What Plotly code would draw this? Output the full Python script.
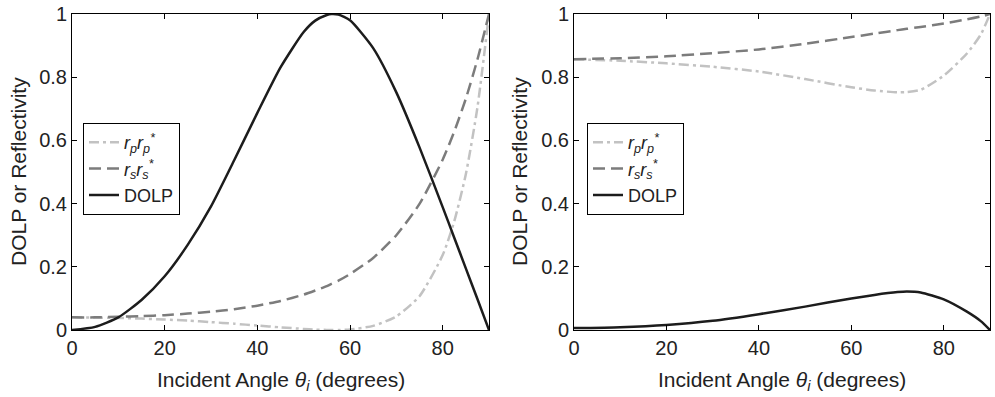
import plotly.graph_objects as go

# ---- data ----
angles_left = [0, 5, 10, 15, 20, 25, 30, 35, 40, 45, 50, 52.5, 55, 56, 57.5, 60, 65, 70, 75, 80, 82.5, 85, 87.5, 90]
rp_left =   [0.040, 0.039, 0.038, 0.036, 0.033, 0.030, 0.025, 0.020, 0.014, 0.0085, 0.0033, 0.0013, 0.0002, 0.0, 0.0002, 0.0018, 0.013, 0.043, 0.107, 0.237, 0.344, 0.493, 0.704, 1.0]
rs_left =   [0.040, 0.040, 0.042, 0.044, 0.047, 0.052, 0.058, 0.066, 0.077, 0.092, 0.112, 0.125, 0.139, 0.146, 0.156, 0.177, 0.228, 0.300, 0.399, 0.539, 0.628, 0.732, 0.856, 1.0]
dolp_left = [0.0, 0.010, 0.040, 0.095, 0.170, 0.270, 0.391, 0.537, 0.687, 0.831, 0.943, 0.979, 0.997, 1.0, 0.998, 0.980, 0.892, 0.752, 0.578, 0.389, 0.292, 0.195, 0.098, 0.0]

angles_right = [0, 10, 20, 30, 40, 50, 60, 65, 70, 72, 75, 80, 85, 88, 90]
rp_right =   [0.857, 0.852, 0.844, 0.833, 0.818, 0.794, 0.768, 0.758, 0.752, 0.753, 0.760, 0.805, 0.875, 0.935, 1.0]
rs_right =   [0.857, 0.860, 0.866, 0.876, 0.888, 0.906, 0.927, 0.938, 0.949, 0.953, 0.959, 0.970, 0.983, 0.992, 1.0]
dolp_right = [0.006, 0.009, 0.016, 0.029, 0.050, 0.074, 0.100, 0.111, 0.120, 0.122, 0.119, 0.097, 0.058, 0.028, 0.0]

x_ticks = [0, 20, 40, 60, 80]
y_ticks = [0, 0.2, 0.4, 0.6, 0.8, 1]
y_tick_labels = ["0", "0.2", "0.4", "0.6", "0.8", "1"]

names = ["<i>r<sub>p</sub>r<sub>p</sub><sup>*</sup></i>",
         "<i>r<sub>s</sub>r<sub>s</sub><sup>*</sup></i>",
         "DOLP"]

C_RP = "#c2c2c2"
C_RS = "#7c7c7c"
C_DO = "#1c1c1c"
FONT = "Liberation Sans, Arial, sans-serif"

fig = go.Figure()

def add_set(xs, rp, rs, dolp, xa, ya, leg):
    fig.add_trace(go.Scatter(x=xs, y=rp, mode="lines", name=names[0], xaxis=xa, yaxis=ya, legend=leg,
                             line=dict(color=C_RP, width=2.5, dash="10px,4px,3px,4px", shape="spline", smoothing=0.6)))
    fig.add_trace(go.Scatter(x=xs, y=rs, mode="lines", name=names[1], xaxis=xa, yaxis=ya, legend=leg,
                             line=dict(color=C_RS, width=2.5, dash="12px,6px", shape="spline", smoothing=0.6)))
    fig.add_trace(go.Scatter(x=xs, y=dolp, mode="lines", name=names[2], xaxis=xa, yaxis=ya, legend=leg,
                             line=dict(color=C_DO, width=2.5, shape="spline", smoothing=0.6)))

add_set(angles_left, rp_left, rs_left, dolp_left, "x", "y", "legend")
add_set(angles_right, rp_right, rs_right, dolp_right, "x2", "y2", "legend2")

W, H = 995, 397
ydom = [1 - 330 / H, 1 - 14 / H]
xdom1 = [72 / W, 489 / W]
xdom2 = [574 / W, 990 / W]

axis_common = dict(showline=True, linecolor="black", linewidth=1, mirror="ticks", automargin=False,
                   ticks="inside", ticklen=5, tickcolor="black", showgrid=False, zeroline=False,
                   tickfont=dict(family=FONT, size=20, color="#222"))

leg_common = dict(xanchor="left", yanchor="top", bordercolor="black", borderwidth=1,
                  bgcolor="white", font=dict(family=FONT, size=18, color="#222"), tracegroupgap=0)

fig.update_layout(
    template="none",
    width=W, height=H,
    margin=dict(l=0, r=0, t=0, b=0, autoexpand=False),
    paper_bgcolor="white", plot_bgcolor="white",
    font=dict(family=FONT, color="#222"),
    xaxis=dict(domain=xdom1, range=[0, 90], tickvals=x_ticks, anchor="y", **axis_common),
    yaxis=dict(domain=ydom, range=[0, 1], tickvals=y_ticks, ticktext=y_tick_labels, anchor="x", **axis_common),
    xaxis2=dict(domain=xdom2, range=[0, 90], tickvals=x_ticks, anchor="y2", **axis_common),
    yaxis2=dict(domain=ydom, range=[0, 1], tickvals=y_ticks, ticktext=y_tick_labels, anchor="x2", **axis_common),
    legend=dict(x=83 / W, y=1 - 123 / H, **leg_common),
    legend2=dict(x=587 / W, y=1 - 123 / H, **leg_common),
    showlegend=True,
)

xt = "Incident Angle <i>θ<sub>i</sub></i> (degrees)"
yt = "DOLP or Reflectivity"
for cx in [(72 + 489) / 2 / W, (574 + 990) / 2 / W]:
    fig.add_annotation(text=xt, x=cx, y=1 - 381 / H, xref="paper", yref="paper", showarrow=False,
                       xanchor="center", yanchor="middle", font=dict(family=FONT, size=21, color="#222"))
for cx in [18 / W, 519 / W]:
    fig.add_annotation(text=yt, x=cx, y=1 - 172 / H, xref="paper", yref="paper", showarrow=False,
                       textangle=-90, xanchor="center", yanchor="middle", font=dict(family=FONT, size=21, color="#222"))

fig.write_html("out.html", config={"displayModeBar": False},
               post_script="document.body.style.margin='0';document.body.style.overflow='hidden';")
